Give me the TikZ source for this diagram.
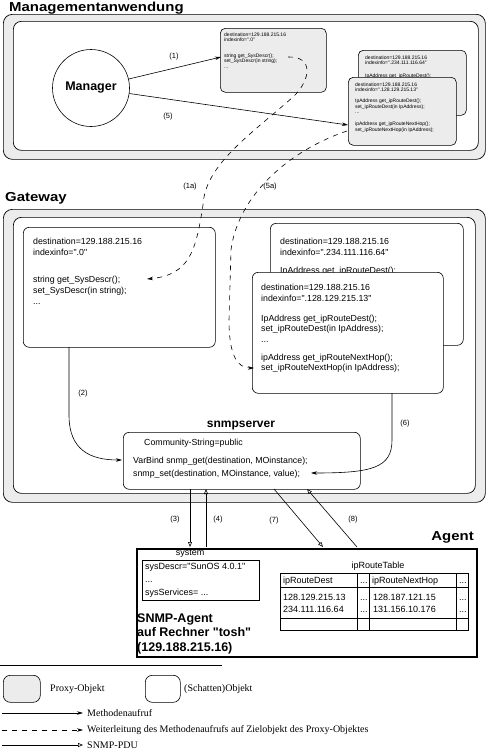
\documentclass[tikz,border=0pt]{standalone}
\usepackage{fontspec}
\defaultfontfeatures[\rmfamily,\sffamily]{}
\setmainfont{Liberation Serif}
\setsansfont{Liberation Sans}
\newfontfamily\titlefont[FakeStretch=1.15]{Liberation Sans}
\usetikzlibrary{arrows.meta}
\definecolor{pgray}{HTML}{ECECEC}
\begin{document}
\begin{tikzpicture}[x=1pt,y=-1pt,
  every node/.style={inner sep=0pt},
  outerframe/.style={draw, fill=pgray, rounded corners=9pt, line width=0.7pt},
  innerframe/.style={draw, fill=white, rounded corners=8pt, line width=0.7pt},
  proxybox/.style={draw, fill=pgray, rounded corners=5pt, line width=0.6pt, anchor=north west},
  objbox/.style={draw, fill=white, rounded corners=6pt, line width=0.6pt, anchor=north west},
  code/.style={font=\sffamily\fontsize{8.8}{11}\selectfont, align=left, anchor=north west},
  tinycode/.style={font=\sffamily\fontsize{5}{5.5}\selectfont, align=left, anchor=north west},
  lbl/.style={font=\sffamily\fontsize{7.5}{9}\selectfont},
  title/.style={font=\titlefont\bfseries\fontsize{13}{15}\selectfont, anchor=base west},
  call/.style={line width=0.6pt, -{Stealth[length=6pt,width=3.5pt]}},
  fwd/.style={call, dash pattern=on 5pt off 5pt},
  pdu/.style={line width=0.6pt, -{Triangle[open,length=5pt,width=4pt]}},
  legend/.style={font=\rmfamily\fontsize{10}{12}\selectfont, anchor=west},
]
\useasboundingbox (0,0) rectangle (486,750);

% ---------------- Managementanwendung ----------------
\node[title] (tman) at (9,11) {Managementanwendung};
\node[outerframe, anchor=north west, minimum width=482, minimum height=145] (mo) at (3,14) {};
\node[innerframe, anchor=north west, minimum width=465, minimum height=129] (mi) at (13,21) {};

\node[circle, draw, line width=0.6pt, minimum size=77, font=\sffamily\bfseries\fontsize{12.5}{14}\selectfont] (mgr) at (91,88) {Manager};

\node[proxybox, minimum width=106, minimum height=64] (p1) at (220,28) {};
\node[tinycode] (p1t) at (224,32.5) {destination=129.188.215.16\\indexinfo=".0"\\[10pt]string get\_SysDescr();\\set\_SysDescr(in string);\\...};

\node[proxybox, minimum width=108, minimum height=65] (p2) at (358,50) {};
\node[tinycode] (p2t) at (365,55.5) {destination=129.188.215.16\\indexinfo=".234.111.116.64"\\[7.5pt]IpAddress get\_ipRouteDest();};

\node[proxybox, minimum width=108, minimum height=68] (p3) at (348,77) {};
\node[tinycode] (p3t) at (355,82.5) {destination=129.188.215.16\\indexinfo=".128.129.215.13"\\[5.5pt]IpAddress get\_ipRouteDest();\\set\_ipRouteDest(in IpAddress);\\...\\[6.5pt]ipAddress get\_ipRouteNextHop();\\set\_ipRouteNextHop(in IpAddress);};

\coordinate (a1e) at (221,57);
\coordinate (a5e) at (348,125);
\draw[call] (mgr) -- (a1e);
\draw[call] (mgr) -- (a5e);
\node[lbl] (l1) at (174,57) {(1)};
\node[lbl] (l5) at (168,117) {(5)};

% ---------------- Gateway ----------------
\node[title] (tgw) at (5,201) {Gateway};
\node[outerframe, anchor=north west, minimum width=482, minimum height=293] (go) at (3,209) {};
\node[innerframe, anchor=north west, minimum width=462, minimum height=276] (gi) at (13,217) {};

\node[objbox, minimum width=192, minimum height=120] (g1) at (23,227) {};
\node[code] (g1t) at (33,237.5) {destination=129.188.215.16\\indexinfo=".0"\\[16pt]string get\_SysDescr();\\set\_SysDescr(in string);\\...};

\node[objbox, minimum width=193, minimum height=122] (g2) at (270,223) {};
\node[code] (g2t) at (280,237.5) {destination=129.188.215.16\\indexinfo=".234.111.116.64"\\[7pt]IpAddress get\_ipRouteDest();};

\node[objbox, minimum width=191, minimum height=121] (g3) at (252,272) {};
\node[code, font=\sffamily\fontsize{8.8}{10.5}\selectfont] (g3t) at (261,284) {destination=129.188.215.16\\indexinfo=".128.129.215.13"\\[9.5pt]IpAddress get\_ipRouteDest();\\set\_ipRouteDest(in IpAddress);\\...\\[7.5pt]ipAddress get\_ipRouteNextHop();\\set\_ipRouteNextHop(in IpAddress);};

\node[font=\sffamily\bfseries\fontsize{12}{14}\selectfont, anchor=base] (slbl) at (241,427.5) {snmpserver};
\node[objbox, minimum width=237, minimum height=57] (s) at (123,432) {};
\node[code] (s1) at (144,438.5) {Community-String=public};
\node[code, font=\sffamily\fontsize{8.8}{13}\selectfont] (s2) at (133,456.6) {VarBind snmp\_get(destination, MOinstance);\\snmp\_set(destination, MOinstance, value);};

% dashed forwarding
\coordinate (d1s) at (288,57);
\coordinate (d1e) at (147,279);
\draw[fwd] (d1s) .. controls (314,56) and (311,80) .. (293,97) .. controls (250,135) and (205,165) .. (203,205) .. controls (196,250) and (190,275) .. (d1e);
\coordinate (d5s) at (347,131);
\coordinate (d5e) at (254,368);
\draw[fwd] (d5s) .. controls (290,150) and (238,195) .. (231,250) -- (229,320) .. controls (229,355) and (237,368) .. (d5e);
\node[lbl] (l1a) at (190,187) {(1a)};
\node[lbl] (l5a) at (270,187) {(5a)};

% method calls inside gateway
\coordinate (a2s) at (69,347);
\coordinate (a2e) at (122,460);
\draw[call] (a2s) -- (69,415) .. controls (69,450) and (90,460) .. (a2e);
\node[lbl] (l2) at (83,394) {(2)};
\coordinate (a6s) at (392,393);
\coordinate (a6e) at (311,473);
\draw[call] (a6s) -- (392,440) .. controls (392,468) and (372,473) .. (a6e);
\node[lbl] (l6) at (405,424) {(6)};

% ---------------- Agent ----------------
\node[font=\titlefont\bfseries\fontsize{13}{15}\selectfont, anchor=base east] (tag) at (474,540) {Agent};
\node[draw, line width=1.6pt, anchor=north west, minimum width=340, minimum height=108] (agent) at (136,548) {};

\node[font=\sffamily\fontsize{9}{11}\selectfont] (syslbl) at (190,554) {system};
\node[draw, line width=0.6pt, anchor=north west, minimum width=117, minimum height=40] (sysbox) at (142,560) {};
\node[align=left, anchor=north west, font=\sffamily\fontsize{9}{13}\selectfont] (syst) at (145,563.5) {sysDescr="SunOS 4.0.1"\\...\\sysServices= ...};

\node[font=\sffamily\fontsize{9}{11}\selectfont] (tbllbl) at (378,566) {ipRouteTable};
\node[draw, line width=0.6pt, anchor=north west, minimum width=188, minimum height=57] (tbl) at (280,573) {};
\draw[line width=0.6pt] (280,587) -- (468,587);
\draw[line width=0.6pt] (280,618) -- (468,618);
\draw[line width=0.6pt] (357,573) -- (357,630);
\draw[line width=0.6pt] (369,573) -- (369,630);
\draw[line width=0.6pt] (456,573) -- (456,630);
\begin{scope}[every node/.style={inner sep=0pt, font=\sffamily\fontsize{9}{11}\selectfont, anchor=base west}]
\node (h1) at (283,583.5) {ipRouteDest};
\node (h2) at (360,583.5) {...};
\node (h3) at (372,583.5) {ipRouteNextHop};
\node (h4) at (459,583.5) {...};
\node (r11) at (283,600.5) {128.129.215.13};
\node (r12) at (360,600.5) {...};
\node (r13) at (373,600.5) {128.187.121.15};
\node (r14) at (459,600.5) {...};
\node (r21) at (283,612.5) {234.111.116.64};
\node (r22) at (360,612.5) {...};
\node (r23) at (373,612.5) {131.156.10.176};
\node (r24) at (459,612.5) {...};
\end{scope}

\node[align=left, anchor=north west, font=\sffamily\bfseries\fontsize{12.5}{14.5}\selectfont] (agt) at (137,613.5) {SNMP-Agent\\auf Rechner "tosh"\\(129.188.215.16)};

% SNMP-PDUs
\coordinate (q3s) at (190,489);
\coordinate (q3e) at (190,547);
\draw[pdu] (q3s) -- (q3e);
\coordinate (q4s) at (206,547);
\coordinate (q4e) at (206,489);
\draw[pdu] (q4s) -- (q4e);
\coordinate (q7s) at (274,489);
\coordinate (q7e) at (323,547);
\draw[pdu] (q7s) -- (q7e);
\coordinate (q8s) at (357,547);
\coordinate (q8e) at (307,489);
\draw[pdu] (q8s) -- (q8e);
\node[lbl] (l3) at (175,520) {(3)};
\node[lbl] (l4) at (218,520) {(4)};
\node[lbl] (l7) at (274,521) {(7)};
\node[lbl] (l8) at (353,520) {(8)};

% ---------------- Legend ----------------
\draw[line width=0.6pt] (0,665) -- (222,665);
\node[proxybox, minimum width=37, minimum height=27, rounded corners=7pt] (lp) at (3,675) {};
\node[legend] (lpt) at (50,689) {Proxy-Objekt};
\node[objbox, minimum width=35, minimum height=27, rounded corners=7pt] (lo) at (145,675) {};
\node[legend] (lot) at (184,689) {(Schatten)Objekt};

\coordinate (m1s) at (2,713);
\node[legend] (m1t) at (87,713) {Methodenaufruf};
\draw[call] (m1s) -- ([xshift=-4pt]m1t.west);
\coordinate (m2s) at (2,730);
\node[legend] (m2t) at (87,730) {Weiterleitung des Methodenaufrufs auf Zielobjekt des Proxy-Objektes};
\draw[fwd] (m2s) -- ([xshift=-4pt]m2t.west);
\coordinate (m3s) at (2,745);
\node[legend] (m3t) at (87,745) {SNMP-PDU};
\draw[pdu] (m3s) -- ([xshift=-4pt]m3t.west);
\end{tikzpicture}
\end{document}
